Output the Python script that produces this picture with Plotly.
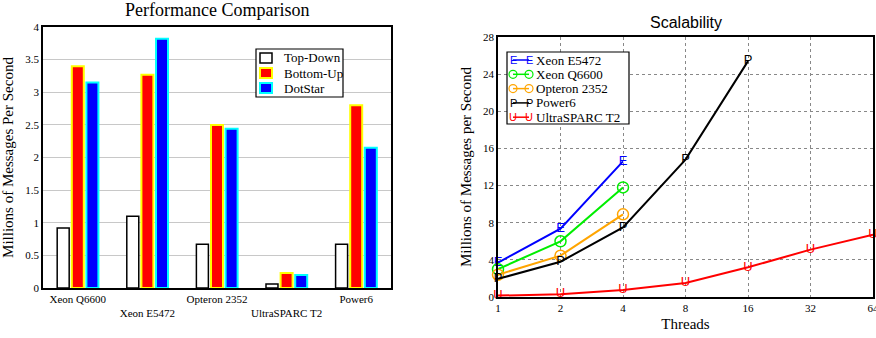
import plotly.graph_objects as go

# ---- Left chart data ----
processors = ["Xeon Q6600", "Xeon E5472", "Opteron 2352", "UltraSPARC T2", "Power6"]
proc_ticktext = ["Xeon Q6600", "<br>Xeon E5472", "Opteron 2352", "<br>UltraSPARC T2", "Power6"]
top_down = [0.92, 1.10, 0.67, 0.06, 0.67]
bottom_up = [3.40, 3.27, 2.50, 0.23, 2.80]
dotstar = [3.15, 3.82, 2.44, 0.20, 2.15]
bar_names = ["Top-Down", "Bottom-Up", "DotStar"]

# ---- Right chart data ----
threads = [1, 2, 4, 8, 16, 32, 64]
xeon_e5472 = [3.7, 7.35, 14.6]
xeon_q6600 = [3.0, 6.0, 11.8]
opteron_2352 = [2.4, 4.45, 8.9]
power6 = [1.95, 3.8, 7.5, 14.8, 25.4]
ultrasparc_t2 = [0.15, 0.3, 0.75, 1.5, 3.2, 5.1, 6.7]
line_names = ["Xeon E5472", "Xeon Q6600", "Opteron 2352", "Power6", "UltraSPARC T2"]

SERIF = "Liberation Serif"
SANS = "Liberation Sans"
W, H = 876, 338


def px(x):
    return x / W


def py(y):
    return 1 - y / H


fig = go.Figure()

bar_styles = [("white", "black", 1.5), ("#ff0000", "#ffff00", 2), ("#0000ff", "#00ffff", 2)]
for name, vals, (fill, edge, lw) in zip(bar_names, [top_down, bottom_up, dotstar], bar_styles):
    fig.add_trace(go.Bar(
        x=processors, y=vals, name=name, xaxis="x", yaxis="y",
        marker=dict(color=fill, line=dict(color=edge, width=lw)),
        showlegend=False,
    ))

line_styles = [("#0000ff", "E"), ("#00ee00", "O"), ("#ffa500", "O"), ("#000000", "P"), ("#ff0000", "U")]
line_vals = [xeon_e5472, xeon_q6600, opteron_2352, power6, ultrasparc_t2]
for name, vals, (color, letter) in zip(line_names, line_vals, line_styles):
    xs = threads[:len(vals)]
    if letter == "O":
        fig.add_trace(go.Scatter(
            x=xs, y=vals, name=name, xaxis="x2", yaxis="y2", mode="lines+markers",
            line=dict(color=color, width=2),
            marker=dict(symbol="circle-open", size=11, color=color, line=dict(width=1.5, color=color)),
            showlegend=False, cliponaxis=False,
        ))
    else:
        fig.add_trace(go.Scatter(
            x=xs, y=vals, name=name, xaxis="x2", yaxis="y2", mode="lines+text",
            text=[letter] * len(xs), textposition="middle center",
            textfont=dict(family=SANS, size=13, color=color),
            line=dict(color=color, width=2),
            showlegend=False, cliponaxis=False,
        ))

shapes = []
annotations = [
    dict(text="Performance Comparison", x=px(217), y=py(10), xref="paper", yref="paper",
         showarrow=False, font=dict(family=SERIF, size=18), xanchor="center", yanchor="middle"),
    dict(text="Scalability", x=px(686), y=py(22), xref="paper", yref="paper",
         showarrow=False, font=dict(family=SANS, size=16), xanchor="center", yanchor="middle"),
]

# ---- Legend for bar chart (drawn in paper space) ----
shapes.append(dict(type="rect", xref="paper", yref="paper", x0=px(256), x1=px(343), y0=py(97), y1=py(49),
                   line=dict(color="black", width=1.2), fillcolor="white", layer="above"))
for i, (name, (fill, edge, lw)) in enumerate(zip(bar_names, bar_styles)):
    cy = 58 + i * 15
    shapes.append(dict(type="rect", xref="paper", yref="paper", x0=px(260), x1=px(272),
                       y0=py(cy + 5), y1=py(cy - 5), fillcolor=fill,
                       line=dict(color=edge, width=lw), layer="above"))
    annotations.append(dict(text=name, x=px(282), y=py(cy), xref="paper", yref="paper",
                            showarrow=False, xanchor="left", yanchor="middle",
                            font=dict(family=SERIF, size=13)))

# ---- Legend for line chart ----
shapes.append(dict(type="rect", xref="paper", yref="paper", x0=px(507), x1=px(629), y0=py(124), y1=py(52),
                   line=dict(color="black", width=1.2), fillcolor="white", layer="above"))
for i, (name, (color, letter)) in enumerate(zip(line_names, line_styles)):
    cy = 60 + i * 14.3
    shapes.append(dict(type="line", xref="paper", yref="paper", x0=px(513), x1=px(529),
                       y0=py(cy), y1=py(cy), line=dict(color=color, width=1.5), layer="above"))
    for ex in (513, 529):
        if letter == "O":
            shapes.append(dict(type="circle", xref="paper", yref="paper", x0=px(ex - 4), x1=px(ex + 4),
                               y0=py(cy + 4), y1=py(cy - 4), line=dict(color=color, width=1.2),
                               layer="above"))
        else:
            annotations.append(dict(text=letter, x=px(ex), y=py(cy), xref="paper", yref="paper",
                                    showarrow=False, xanchor="center", yanchor="middle",
                                    font=dict(family=SANS, size=11, color=color)))
    annotations.append(dict(text=name, x=px(534), y=py(cy), xref="paper", yref="paper",
                            showarrow=False, xanchor="left", yanchor="middle",
                            font=dict(family=SERIF, size=13)))

fig.update_layout(
    width=W, height=H,
    margin=dict(l=0, r=0, t=0, b=0),
    paper_bgcolor="white", plot_bgcolor="white",
    font=dict(family=SERIF, size=11, color="black"),
    barmode="group", bargap=0.37, bargroupgap=0.18,
    showlegend=False,
    xaxis=dict(
        domain=[px(43), px(391)], anchor="y", automargin=False,
        tickmode="array", tickvals=processors, ticktext=proc_ticktext,
        showline=True, mirror=True, linecolor="black", linewidth=1.5,
        ticks="", showgrid=False, tickfont=dict(size=11),
        range=[-0.5, 4.5],
    ),
    yaxis=dict(
        domain=[py(288), py(27)], anchor="x", automargin=False,
        range=[0, 4], dtick=0.5, tickformat="~g",
        showline=True, mirror=True, linecolor="black", linewidth=1.5,
        showgrid=True, gridcolor="#c8c8c8", gridwidth=1,
        ticks="", zeroline=False, tickfont=dict(size=11),
        title=dict(text="Millions of Messages Per Second", font=dict(size=15), standoff=8),
    ),
    xaxis2=dict(
        domain=[px(498), px(873)], anchor="y2", type="log", automargin=False,
        range=[0, 1.8062], tickmode="array", tickvals=threads,
        ticktext=[str(t) for t in threads], ticklabeloverflow="allow",
        showline=True, mirror=True, linecolor="black", linewidth=1.5,
        showgrid=True, gridcolor="#888888", griddash="dot", gridwidth=1,
        ticks="", tickfont=dict(size=11),
        title=dict(text="Threads", font=dict(size=15), standoff=6),
    ),
    yaxis2=dict(
        domain=[py(297), py(37)], anchor="x2", automargin=False,
        range=[0, 28], dtick=4,
        showline=True, mirror=True, linecolor="black", linewidth=1.5,
        showgrid=True, gridcolor="#888888", griddash="dot", gridwidth=1,
        ticks="", zeroline=False, tickfont=dict(size=11),
        title=dict(text="Millions of Messages per Second", font=dict(size=15), standoff=8),
    ),
    shapes=shapes,
    annotations=annotations,
)

fig.write_html(
    "out.html",
    config={"displayModeBar": False},
    post_script="document.body.style.margin='0';document.body.style.padding='0';",
)
